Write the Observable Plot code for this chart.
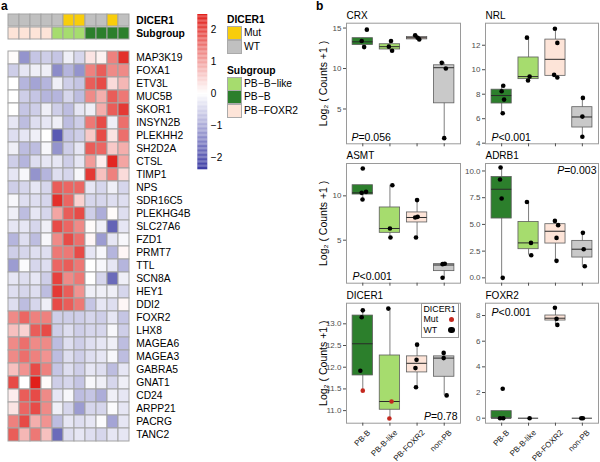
<!DOCTYPE html>
<html><head><meta charset="utf-8">
<script src="https://cdn.jsdelivr.net/npm/d3@7"></script>
<script src="https://cdn.jsdelivr.net/npm/@observablehq/plot@0.6"></script>
<style>
body{margin:0;background:#fff;}
#root{position:relative;width:600px;height:462px;overflow:hidden;font-family:"Liberation Sans",Arial,Helvetica,sans-serif;color:#000;}
.lab{position:absolute;white-space:nowrap;line-height:1;}
.sw{position:absolute;width:13px;height:12px;border:1px solid #aaa;box-sizing:content-box;}
.dot{position:absolute;border-radius:50%;}
</style></head><body><div id="root"></div>
<script>
// ---------- panel a : heatmap data ----------
const samples = [1,2,3,4,5,6,7,8,9,10,11];
const dicerStatus = ["WT","WT","WT","WT","WT","Mut","Mut","WT","WT","Mut","WT"];
const subgroup = ["PB-FOXR2","PB-FOXR2","PB-FOXR2","PB-FOXR2","PB-B-like","PB-B-like","PB-B-like","PB-B","PB-B","PB-B","PB-B"];
const dicerLevels = ["Mut","WT"];
const dicerColors = ["#f8cd0b","#c0c0c0"];
const subLevels = ["PB-B-like","PB-B","PB-FOXR2"];
const subColors = ["#a6dc6e","#2c7f2c","#fde4d8"];
const genes = ["MAP3K19","FOXA1","ETV3L","MUC5B","SKOR1","INSYN2B","PLEKHH2","SH2D2A","CTSL","TIMP1",
  "NPS","SDR16C5","PLEKHG4B","SLC27A6","FZD1","PRMT7","TTL","SCN8A","HEY1","DDI2",
  "FOXR2","LHX8","MAGEA6","MAGEA3","GABRA5","GNAT1","CD24","ARPP21","PACRG","TANC2"];
const expr = [
  [0.05,-1.3,-0.7,-0.6,-0.7,-0.2,-0.5,0.3,0.15,1.4,2.3],
  [-0.6,-0.3,-0.2,-0.2,-1.4,-0.9,-1.3,1.4,1.8,1.3,1.3],
  [0.0,-0.9,-1.1,-0.9,-0.2,-0.6,-0.7,1.8,2.0,0.4,0.8],
  [0.0,-0.6,-0.7,-0.9,-0.9,-0.5,-0.8,1.3,0.9,1.8,1.5],
  [0.0,-0.7,-0.6,-0.2,-0.6,-0.8,-0.3,-0.2,0.9,1.8,2.2],
  [-0.3,-0.8,-0.4,-0.3,-0.2,-0.8,-0.6,1.5,2.0,-0.2,1.6],
  [-0.4,-0.3,-0.2,0.0,-2.0,-0.7,-0.6,0.6,2.0,0.3,1.6],
  [-0.2,-0.8,-0.8,-0.1,-1.3,-0.6,-0.3,1.8,1.7,0.6,0.9],
  [-0.6,-0.9,-0.4,-0.3,-0.3,-0.6,-0.3,1.1,0.2,2.4,1.0],
  [-0.3,-0.1,-1.3,-0.9,-0.4,-0.5,-0.1,2.2,0.7,1.4,0.4],
  [-0.6,-0.5,-0.3,-0.5,1.8,1.7,1.7,-0.3,-0.5,-0.2,-0.5],
  [-0.1,-0.4,-0.4,-0.5,2.3,1.7,0.5,-0.5,-0.5,-0.4,-0.4],
  [-0.2,-0.8,-0.3,-0.5,1.0,1.8,2.0,-0.6,-1.0,0.05,-0.4],
  [-0.3,-0.3,-0.5,-0.2,2.0,1.7,1.3,0.05,-0.2,-1.9,-0.3],
  [-0.9,-0.4,-0.8,-0.1,1.3,2.0,1.6,0.1,-1.2,-0.3,-0.1],
  [-0.6,-0.5,-0.4,-0.4,1.5,1.5,2.0,-0.3,-0.1,-0.9,0.1],
  [-1.2,-0.05,-0.5,-0.4,1.7,1.8,1.5,0.0,-0.1,-0.3,-0.9],
  [-0.3,-0.4,-0.3,-0.6,2.1,1.3,1.5,0.0,-0.5,-1.8,-0.2],
  [-0.4,-0.5,-0.4,-0.8,2.2,1.8,1.2,-0.2,-0.2,-0.2,-0.5],
  [-0.4,-0.8,-0.5,-0.2,2.0,1.8,1.5,-0.7,-0.3,-0.4,0.1],
  [1.3,1.7,1.4,1.4,-0.6,-0.6,-0.6,-0.5,-0.6,-0.3,-0.7],
  [0.7,0.5,1.8,2.0,-0.6,-0.4,-0.6,-0.5,-0.5,-0.1,-0.6],
  [1.3,1.6,1.3,1.3,-0.8,-0.4,-0.6,-0.4,-0.3,-0.2,-0.8],
  [1.3,1.6,1.4,1.2,-0.8,-0.4,-0.6,-0.4,-0.3,-0.1,-0.8],
  [0.7,1.2,2.0,1.4,-0.7,-0.4,-0.6,-0.3,-0.4,-0.8,-0.3],
  [2.0,0.0,2.5,0.05,-0.6,-0.5,-0.7,-0.1,-0.2,-0.5,-0.2],
  [0.2,1.8,2.0,1.3,-0.3,-0.1,-0.8,-0.7,-1.0,-0.2,-0.3],
  [0.3,1.7,2.0,1.3,-0.2,-0.5,-1.2,-0.5,-0.5,-0.05,-0.3],
  [1.4,2.0,0.9,1.2,-0.8,-0.3,-0.4,-0.3,-0.05,-1.1,-0.3],
  [1.8,0.8,1.5,0.7,-1.8,-0.4,-0.3,-0.4,-0.5,-0.3,-0.3]
];
const legendTicks = [-2,-1,0,1,2];

// ---------- panel b : boxplot data ----------
const groups = ["PB-B","PB-B-like","PB-FOXR2","non-PB"];
const groupFill = ["#2c7f2c","#a6dc6e","#fde4d8","#c9c9c9"];
const yTitle = "Log₂ ( Counts +1 )";
// box stats per group: [lower whisker, q1, median, q3, upper whisker]
const crxBox = [[12.65,12.9,13.3,13.75,13.75],[12.2,12.35,12.7,13.0,13.4],[13.6,13.6,13.8,13.9,14.1],[1.4,5.7,10.1,10.4,10.7]];
const crxPts = [[14.8,13.4,12.65],[13.4,12.7,12.2],[14.1,13.8,13.6],[10.7,10.0,1.4]];
const crxJit = [[0.15,-0.04,0.05],[0.04,-0.04,0.08],[-0.07,0.02,0.08],[-0.09,0.06,0]];
const nrlBox = [[6.44,7.24,7.89,8.37,8.69],[9.12,9.23,9.44,11.0,12.62],[9.37,9.5,10.85,12.46,13.35],[4.52,5.28,6.14,6.94,7.7]];
const nrlPts = [[8.69,8.24,7.56,6.44],[12.62,9.44,9.12],[13.35,12.19,9.58,9.37],[7.7,6.17,4.52]];
const nrlJit = [[0.06,0,0.09,0.04],[-0.06,0.04,-0.02],[-0.02,0.07,-0.05,0.07],[0.02,0,0]];
const asmtBox = [[9.59,10.15,10.34,11.2,11.2],[5.31,5.83,6.32,8.69,11.2],[5.31,7.0,7.56,8.13,9.52],[0.76,1.51,2.2,2.3,2.35]];
const asmtPts = [[13.09,10.34,10.45,9.59],[11.2,6.32,5.31],[9.52,7.56,7.63,5.31],[2.3,2.35,0.76]];
const asmtJit = [[0,-0.04,0.12,-0.01],[0.09,0,0.02],[0,-0.07,0.02,-0.04],[-0.06,0.02,-0.06]];
const adrb1Box = [[0,5.55,8.29,9.44,10.32],[2.12,2.68,3.27,5.23,7.1],[1.59,3.21,4.36,5.02,5.33],[1.09,1.9,2.68,3.46,4.21]];
const adrb1Pts = [[10.32,9.2,7.42,0],[7.1,3.27,2.12],[5.33,4.93,3.74,1.59],[4.21,2.68,1.09]];
const adrb1Jit = [[-0.04,-0.06,0,0.04],[-0.06,0.09,0.1],[-0.02,0.1,0.04,0.04],[0.02,0.05,0.09]];
const dicerBox = [[11.46,11.81,12.54,13.19,13.31],[10.82,11.02,11.21,12.27,13.35],[11.54,11.88,12.09,12.25,12.52],[11.35,11.78,12.21,12.25,12.33]];
const dicerPts = [[13.31,13.15,11.92,11.46],[13.35,11.21,10.82],[12.52,12.17,11.98,11.54],[12.33,12.21,11.35]];
const dicerJit = [[0,-0.04,-0.09,0],[-0.06,0.06,-0.02],[0,-0.02,-0.06,-0.04],[-0.02,-0.02,0.09]];
const dicerMut = [[0,0,0,1],[0,1,1],[0,0,0,0],[0,0,0]];
const foxr2Box = [[0,0,0,0.55,0.55],[0,0,0,0,0],[7.27,7.61,7.79,8.0,8.6],[0,0,0,0,0]];
const foxr2Pts = [[2.29,0,0],[0],[8.6,7.74,7.27],[0,0]];
const foxr2Jit = [[0.04,-0.06,0.06],[0.04],[-0.02,0.04,0.07],[-0.04,0.02]];

// ---------- rendering ----------
const root = document.getElementById("root");
const FONT = '"Liberation Sans", Arial, Helvetica, sans-serif';
const baseStyle = {background:"transparent", fontFamily:FONT, color:"#000", overflow:"visible"};
function place(node, left, top) {
  node.style.position = "absolute"; node.style.left = left + "px"; node.style.top = top + "px";
  root.appendChild(node); return node;
}
function label(text, left, top, size, extra = "") {
  const d = document.createElement("div");
  d.className = "lab"; d.textContent = text;
  d.style.cssText += `left:${left}px;top:${top}px;font-size:${size}px;${extra}`;
  root.appendChild(d); return d;
}

const colorDomain = [-2.38, 0, 2.49];
const colorRange = ["#3b3ba4", "#ffffff", "#e11f1a"];

// heatmap
const heatCells = genes.flatMap((g, i) => expr[i].map((v, j) => ({gene: g, sample: samples[j], value: v})));
place(Plot.plot({
  width: 200, height: 452, marginTop: 40.7, marginBottom: 1.3, marginLeft: 4, marginRight: 67.3,
  x: {domain: samples, padding: 0, axis: null},
  y: {domain: genes, padding: 0},
  color: {type: "linear", domain: colorDomain, range: colorRange, clamp: true},
  style: {...baseStyle, fontSize: "10.3px"},
  marks: [
    Plot.cell(heatCells, {x: "sample", y: "gene", fill: "value", stroke: "#a3a3a3", strokeWidth: 1, inset: 0}),
    Plot.axisY({anchor: "right", tickSize: 0, tickPadding: 3, label: null, fontSize: 10.3})
  ]
}), 0, 0);

// annotation rows
const annoCells = [
  ...dicerStatus.map((s, j) => ({row: "DICER1", sample: samples[j], fill: dicerColors[dicerLevels.indexOf(s)]})),
  ...subgroup.map((s, j) => ({row: "Subgroup", sample: samples[j], fill: subColors[subLevels.indexOf(s)]}))
];
place(Plot.plot({
  width: 200, height: 40, marginTop: 14.3, marginBottom: 1, marginLeft: 4, marginRight: 67.3,
  x: {domain: samples, padding: 0, axis: null},
  y: {domain: ["DICER1", "Subgroup"], paddingInner: 0.1, paddingOuter: 0},
  style: {...baseStyle, fontSize: "10.3px"},
  marks: [
    Plot.cell(annoCells, {x: "sample", y: "row", fill: "fill", stroke: "#a3a3a3", strokeWidth: 1, inset: 0}),
    Plot.axisY({anchor: "right", tickSize: 0, tickPadding: 3, label: null, fontSize: 10.3, fontWeight: "bold"})
  ]
}), 0, 0);

// color legend bar
const nSteps = 120;
const legendSteps = d3.range(nSteps).map(i => {
  const lo = colorDomain[0] + (colorDomain[2] - colorDomain[0]) * i / nSteps;
  const hi = colorDomain[0] + (colorDomain[2] - colorDomain[0]) * (i + 1) / nSteps;
  return {lo, hi, mid: (lo + hi) / 2};
});
place(Plot.plot({
  width: 40, height: 175, marginTop: 14, marginBottom: 5.7, marginLeft: 7.3, marginRight: 22.7,
  x: {domain: [0, 1], axis: null},
  y: {domain: [colorDomain[0], colorDomain[2]]},
  color: {type: "linear", domain: colorDomain, range: colorRange, clamp: true},
  style: {...baseStyle, fontSize: "10px"},
  marks: [
    Plot.rect(legendSteps, {x1: () => 0, x2: () => 1, y1: "lo", y2: "hi", fill: "mid"}),
    Plot.axisY({anchor: "right", ticks: legendTicks, tickSize: 0, tickPadding: 3, label: null, fontSize: 10,
      tickFormat: d => d < 0 ? "\u2212" + (-d) : String(d)})
  ]
}), 190, 0);

// annotation legend (HTML)
label("DICER1", 227, 14.5, 10.3, "font-weight:bold;");
const swDefs = [
  [dicerColors[0], 26, "Mut"], [dicerColors[1], 40, "WT"],
  [subColors[0], 76.7, subLevels[0]], [subColors[1], 90.3, subLevels[1]], [subColors[2], 104, subLevels[2]]
];
swDefs.forEach(([c, y, t]) => {
  const s = document.createElement("div"); s.className = "sw";
  s.style.left = "226.5px"; s.style.top = y + "px"; s.style.background = c; root.appendChild(s);
  label(t.replace(/-/g, "\u2212"), 244, y + 2, 10.3);
});
label("Subgroup", 227, 65.5, 10.3, "font-weight:bold;");

// panel letters
label("a", 1, 0, 12, "font-weight:bold;");
label("b", 316, 0, 12, "font-weight:bold;");

// boxplot panels
function boxPanel(cfg) {
  const boxes = cfg.box.map((b, i) => ({x: i + 1, lo: b[0], q1: b[1], med: b[2], q3: b[3], hi: b[4], fill: groupFill[i]}));
  const pts = cfg.pts.flatMap((arr, i) => arr.map((v, k) => ({x: i + 1 + cfg.jit[i][k], y: v, mut: cfg.mut ? cfg.mut[i][k] : 0})));
  const hw = 0.375;
  const marks = [
    Plot.ruleX(boxes, {x: "x", y1: "lo", y2: "hi", stroke: "#5e5e5e", strokeWidth: 0.8}),
    Plot.rect(boxes, {x1: d => d.x - hw, x2: d => d.x + hw, y1: "q1", y2: "q3", fill: "fill", stroke: "#5e5e5e", strokeWidth: 0.8}),
    Plot.ruleY(boxes, {y: "med", x1: d => d.x - hw, x2: d => d.x + hw, stroke: "#2a2a2a", strokeWidth: 1}),
    Plot.dot(pts, {x: "x", y: "y", r: 2.3, fill: d => d.mut ? "#c4281e" : "#000000", stroke: null}),
    Plot.frame({stroke: "#9a9a9a"}),
    Plot.axisY({ticks: cfg.ticks, tickFormat: cfg.fmt, tickSize: 3, tickPadding: 2, label: null, fontSize: 8, color: "#4d4d4d"}),
    Plot.axisX({ticks: [1, 2, 3, 4], tickFormat: () => "", tickSize: 3, label: null, color: "#4d4d4d"}),
    Plot.text([cfg.name], {text: d => d, frameAnchor: "top-left", dy: -4, lineAnchor: "bottom", textAnchor: "start", fontSize: 10}),
    Plot.text([cfg.p], {text: d => d, frameAnchor: cfg.pAnchor, dx: cfg.pdx, dy: cfg.pdy,
      lineAnchor: cfg.pAnchor.startsWith("top") ? "top" : "bottom",
      textAnchor: cfg.pAnchor.endsWith("left") ? "start" : "end", fontSize: 10.5})
  ];
  if (cfg.showX) marks.push(Plot.text(groups, {x: (d, i) => i + 1, text: d => d, frameAnchor: "bottom", rotate: -45,
    textAnchor: "end", lineAnchor: "top", dx: 4, dy: 6, fontSize: 8, fill: "#222"}));
  if (cfg.ylab) marks.push(Plot.text([yTitle], {text: d => d, frameAnchor: "left", rotate: -90, dx: -23, textAnchor: "middle", lineAnchor: "middle", fontSize: 10.5}));
  const svg = Plot.plot({
    width: cfg.w, height: cfg.h, marginLeft: cfg.ml, marginRight: 2, marginTop: cfg.mt, marginBottom: cfg.mb,
    x: {domain: [0.4, 4.6]},
    y: {domain: cfg.domain},
    style: {...baseStyle, fontSize: "9px"},
    marks
  });
  // italic P in p-value labels
  svg.querySelectorAll("text").forEach(t => {
    const s = t.textContent;
    if (/^P[=<]/.test(s)) {
      t.textContent = "";
      const ns = "http://www.w3.org/2000/svg";
      const a = document.createElementNS(ns, "tspan"); a.setAttribute("font-style", "italic"); a.textContent = "P";
      const b = document.createElementNS(ns, "tspan"); b.textContent = s.slice(1);
      t.appendChild(a); t.appendChild(b);
    }
  });
  return place(svg, cfg.left, cfg.top);
}
const L = {left: 300, w: 162, ml: 46, ylab: true};
const R = {left: 462, w: 138, ml: 23, ylab: false};
const row1 = {top: 0, mt: 22.7, h: 149.3, mb: 6, showX: false};
const row2 = {top: 149.3, mt: 14, h: 139.7, mb: 6, showX: false};
const row3 = {top: 289, mt: 13.7, h: 173, mb: 39.3, showX: true};
const f1 = d => d.toFixed(1);
const f0 = d => String(d);

boxPanel({...L, ...row1, name: "CRX", box: crxBox, pts: crxPts, jit: crxJit, domain: [0.7, 15.6], ticks: [5, 10, 15], fmt: f0,
  p: "P=0.056", pAnchor: "bottom-left", pdx: 5, pdy: -3});
boxPanel({...R, ...row1, name: "NRL", box: nrlBox, pts: nrlPts, jit: nrlJit, domain: [3.95, 13.8], ticks: [4, 6, 8, 10, 12], fmt: f0,
  p: "P<0.001", pAnchor: "bottom-left", pdx: 6, pdy: -3});
boxPanel({...L, ...row2, name: "ASMT", box: asmtBox, pts: asmtPts, jit: asmtJit, domain: [0.15, 13.65], ticks: [5, 10], fmt: f0,
  p: "P<0.001", pAnchor: "bottom-left", pdx: 6, pdy: -3});
boxPanel({...R, ...row2, name: "ADRB1", box: adrb1Box, pts: adrb1Pts, jit: adrb1Jit, domain: [-0.5, 10.7], ticks: [0, 2.5, 5, 7.5, 10], fmt: f1,
  p: "P=0.003", pAnchor: "top-right", pdx: -2, pdy: 3});
boxPanel({...L, ...row3, name: "DICER1", box: dicerBox, pts: dicerPts, jit: dicerJit, mut: dicerMut, domain: [10.71, 13.475], ticks: [11, 11.5, 12, 12.5, 13], fmt: f1,
  p: "P=0.78", pAnchor: "bottom-right", pdx: -3, pdy: -3});
boxPanel({...R, ...row3, name: "FOXR2", box: foxr2Box, pts: foxr2Pts, jit: foxr2Jit, domain: [-0.39, 8.96], ticks: [0, 2, 4, 6, 8], fmt: f0,
  p: "P<0.001", pAnchor: "top-left", pdx: 6, pdy: 5});

// DICER1 point legend (HTML)
const lg = document.createElement("div");
lg.style.cssText = "position:absolute;left:421px;top:302.7px;width:38px;height:35.5px;background:#fff;border:1px solid #9a9a9a;box-sizing:border-box;";
root.appendChild(lg);
label("DICER1", 423.5, 304.5, 8.8);
label("Mut", 423.5, 315, 8.8);
label("WT", 423.5, 325.5, 8.8);
[["#c4281e", 451.7, 319.3, 2.7], ["#000", 451.7, 330, 3.3]].forEach(([c, x, y, r]) => {
  const d = document.createElement("div"); d.className = "dot";
  d.style.cssText += `left:${x - r}px;top:${y - r}px;width:${2 * r}px;height:${2 * r}px;background:${c};`;
  root.appendChild(d);
});
</script></body></html>
